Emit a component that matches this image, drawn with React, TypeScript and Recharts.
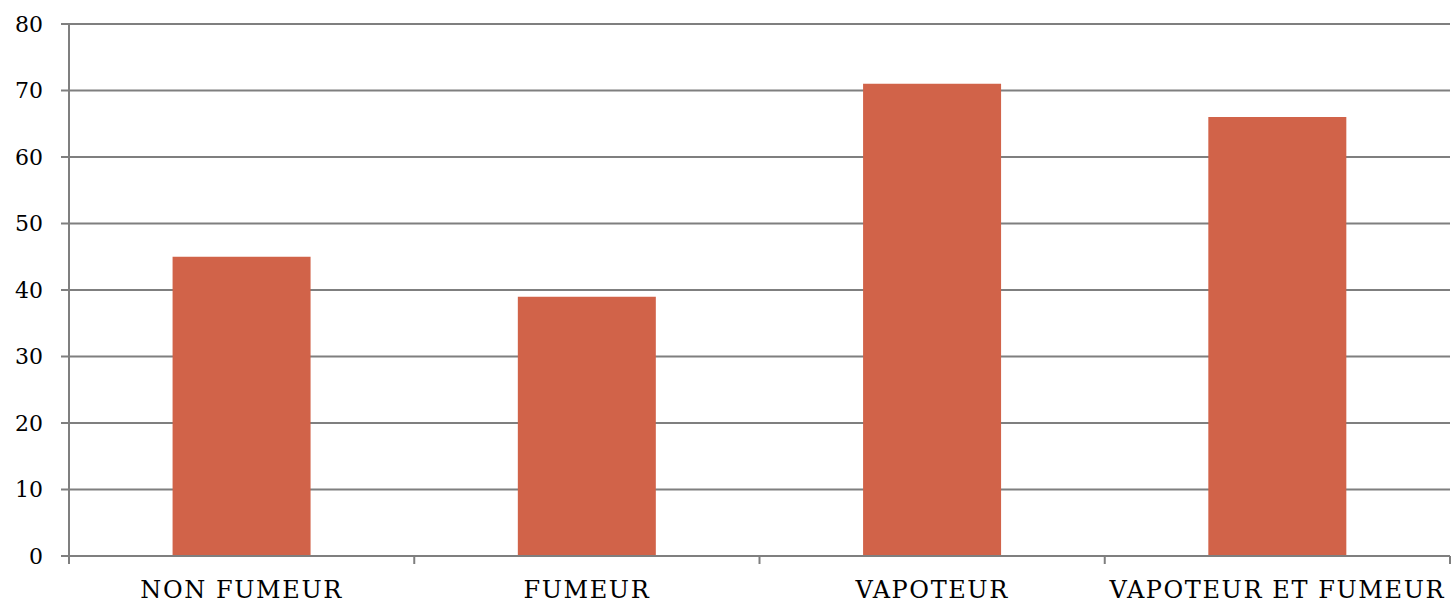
import React from 'react';
import { BarChart, Bar, XAxis, YAxis, CartesianGrid } from 'recharts';

const categories = ['NON FUMEUR', 'FUMEUR', 'VAPOTEUR', 'VAPOTEUR ET FUMEUR'];
const values = [45, 39, 71, 66];
const yTicks = [0, 10, 20, 30, 40, 50, 60, 70, 80];

const data = categories.map((name, i) => ({ name, value: values[i] }));

const W = 1451;
const H = 606;
const LEFT = 69;
const RIGHT_MARGIN = 1;
const BAND = (W - RIGHT_MARGIN - LEFT) / categories.length;
const AXIS_COLOR = '#7f7f7f';
const FONT = '"DejaVu Serif", serif';

const XTick = (props: any) => {
  const { x, y, payload, index } = props;
  const last = index === categories.length - 1;
  return (
    <g>
      <line x1={x - BAND / 2} y1={y} x2={x - BAND / 2} y2={y + 8} stroke={AXIS_COLOR} strokeWidth={2} />
      {last && (
        <line x1={x + BAND / 2} y1={y} x2={x + BAND / 2} y2={y + 8} stroke={AXIS_COLOR} strokeWidth={2} />
      )}
      <text
        x={x}
        y={y + 42}
        textAnchor="middle"
        fontFamily={FONT}
        fontSize={24}
        letterSpacing={1.6}
        fill="#000"
      >
        {payload.value}
      </text>
    </g>
  );
};

export default function App() {
  return (
    <div style={{ position: 'absolute', left: 0, top: 0, width: W, height: H, background: '#fff' }}>
      <BarChart
        width={W}
        height={H}
        data={data}
        margin={{ top: 24, right: RIGHT_MARGIN, bottom: 0, left: 0 }}
        barCategoryGap="30%"
      >
        <CartesianGrid vertical={false} stroke={AXIS_COLOR} strokeWidth={2} />
        <XAxis
          dataKey="name"
          height={50}
          tickLine={false}
          tickSize={0}
          tickMargin={0}
          axisLine={{ stroke: AXIS_COLOR, strokeWidth: 2 }}
          tick={<XTick />}
          interval={0}
        />
        <YAxis
          width={LEFT}
          domain={[0, 80]}
          ticks={yTicks}
          tickSize={8}
          tickMargin={18}
          axisLine={{ stroke: AXIS_COLOR, strokeWidth: 2 }}
          tickLine={{ stroke: AXIS_COLOR, strokeWidth: 2 }}
          tick={{ fontFamily: FONT, fontSize: 22, fill: '#000' }}
        />
        <Bar dataKey="value" fill="#D16349" isAnimationActive={false} />
      </BarChart>
    </div>
  );
}
